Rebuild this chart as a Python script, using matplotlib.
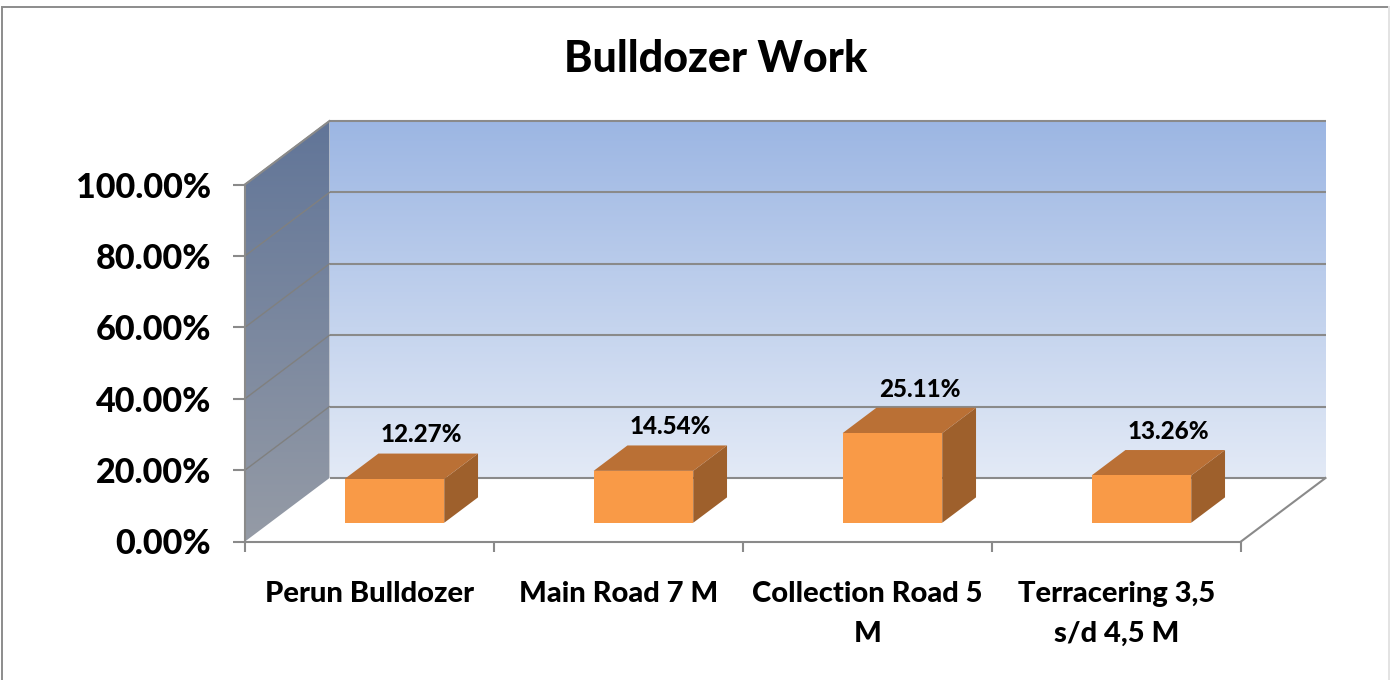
import numpy as np
import matplotlib
matplotlib.use("Agg")
import matplotlib.pyplot as plt
from matplotlib.patches import Polygon, Rectangle
from matplotlib.colors import LinearSegmentedColormap

title = "Bulldozer Work"
categories = ["Perun Bulldozer", "Main Road 7 M", "Collection Road 5\nM", "Terracering 3,5\ns/d 4,5 M"]
values = [12.27, 14.54, 25.11, 13.26]
value_labels = ["12.27%", "14.54%", "25.11%", "13.26%"]
y_ticks = [0, 20, 40, 60, 80, 100]
y_tick_labels = ["0.00%", "20.00%", "40.00%", "60.00%", "80.00%", "100.00%"]

W, H = 1390, 680
WEIGHT = 900
plt.rcParams["font.family"] = ["Lato", "DejaVu Sans"]
plt.rcParams["font.weight"] = WEIGHT
fig = plt.figure(figsize=(W / 100, H / 100), dpi=100, facecolor="white")

L, R, B, T = 245, 1241, 541.5, 184.5
ax = fig.add_axes([L / W, 1 - B / H, (R - L) / W, (B - T) / H])
ax.set_xlim(0, 4)
ax.set_ylim(0, 100)
ax.patch.set_visible(False)

px_x = (R - L) / 4
px_y = (B - T) / 100
DX = 84.5 / px_x
DY = 63.5 / px_y
GREY = "#8a8a8a"
LW = 1.5


def vgrad(poly, extent, top, bottom, z):
    cmap = LinearSegmentedColormap.from_list("g", [top, bottom])
    im = ax.imshow(np.linspace(0, 1, 256)[:, None], extent=extent, aspect="auto",
                   cmap=cmap, zorder=z, origin="upper")
    patch = Polygon(poly, closed=True, transform=ax.transData, fc="none", ec="none")
    ax.add_patch(patch)
    patch.set_clip_on(False)
    im.set_clip_box(fig.bbox)
    im.set_clip_path(patch)


# back wall
vgrad([(DX, DY), (4 + DX, DY), (4 + DX, 100 + DY), (DX, 100 + DY)],
      (DX, 4 + DX, DY, 100 + DY), "#9cb6e3", "#e3eaf6", 1)

# side wall
vgrad([(0, 0), (DX, DY), (DX, 100 + DY), (0, 100)],
      (0, DX, 0, 100 + DY), "#617598", "#959ba6", 1)
ax.set_xlim(0, 4)
ax.set_ylim(0, 100)

# gridlines
for t in y_ticks:
    ax.plot([DX, 4 + DX], [t + DY, t + DY], color=GREY, lw=LW, zorder=2, clip_on=False,
            solid_capstyle="butt")
    if t > 0:
        ax.plot([0, DX], [t, t + DY], color="#80807f", lw=1.0, zorder=2, clip_on=False)
ax.plot([0, DX], [100, 100 + DY], color=GREY, lw=LW, zorder=2, clip_on=False)
ax.plot([4, 4 + DX], [0, DY], color=GREY, lw=LW, zorder=2, clip_on=False)

# bars
f0, f1, bw = 0.295, 0.695, 0.40
for i, (v, lab) in enumerate(zip(values, value_labels)):
    x0 = i + 0.5 - bw / 2 + f0 * DX
    x1 = x0 + bw
    y0 = f0 * DY
    y1 = y0 + v
    ddx = (f1 - f0) * DX
    ddy = (f1 - f0) * DY
    ax.add_patch(Polygon([(x1, y0), (x1 + ddx, y0 + ddy), (x1 + ddx, y1 + ddy), (x1, y1)],
                         fc="#9e602c", ec="none", zorder=3, clip_on=False))
    ax.add_patch(Polygon([(x0, y1), (x1, y1), (x1 + ddx, y1 + ddy), (x0 + ddx, y1 + ddy)],
                         fc="#ba7035", ec="none", zorder=3, clip_on=False))
    ax.add_patch(Rectangle((x0, y0), bw, v, fc="#f99a47", ec="none", zorder=4, clip_on=False))
    ax.annotate(lab, xy=((x0 + x1) / 2, y1), xytext=(27 * 0.72, 44 * 0.72),
                textcoords="offset points", ha="center", va="center",
                fontsize=17.4, fontweight=WEIGHT, color="black", zorder=6)

# axes
for s in ["top", "right"]:
    ax.spines[s].set_visible(False)
for s in ["left", "bottom"]:
    ax.spines[s].set_color(GREY)
    ax.spines[s].set_linewidth(LW)
    ax.spines[s].set_zorder(5)

ax.set_yticks(y_ticks)
ax.set_yticklabels(y_tick_labels, fontsize=24.6, fontweight=WEIGHT, color="black")
ax.tick_params(axis="y", length=8.5, width=LW, color=GREY, pad=16)

ax.set_xticks(range(5))
ax.set_xticklabels([])
ax.tick_params(axis="x", which="major", length=7, width=LW, color=GREY)
ax.set_xticks(np.arange(4) + 0.5, minor=True)
ax.set_xticklabels(categories, minor=True, fontsize=21, fontweight=WEIGHT, color="black",
                   linespacing=1.67, va="top")
ax.tick_params(axis="x", which="minor", length=0, pad=28.5)

fig.text(716 / W, 1 - 58.5 / H, title, ha="center", va="center", fontsize=31,
         fontweight=WEIGHT, color="black")

# chart frame
fig.add_artist(Rectangle((1.5 / W, -0.01), (W - 3) / W, 1 - 7 / H + 0.01,
                         transform=fig.transFigure, fc="none", ec="#8c8c8c", lw=1.4))
fig.add_artist(plt.Line2D([1388.5 / W] * 2, [0, 1 - 7 / H], color="#e6e6e6", lw=1.4))

fig.savefig("out.png", dpi=100, facecolor="white")
